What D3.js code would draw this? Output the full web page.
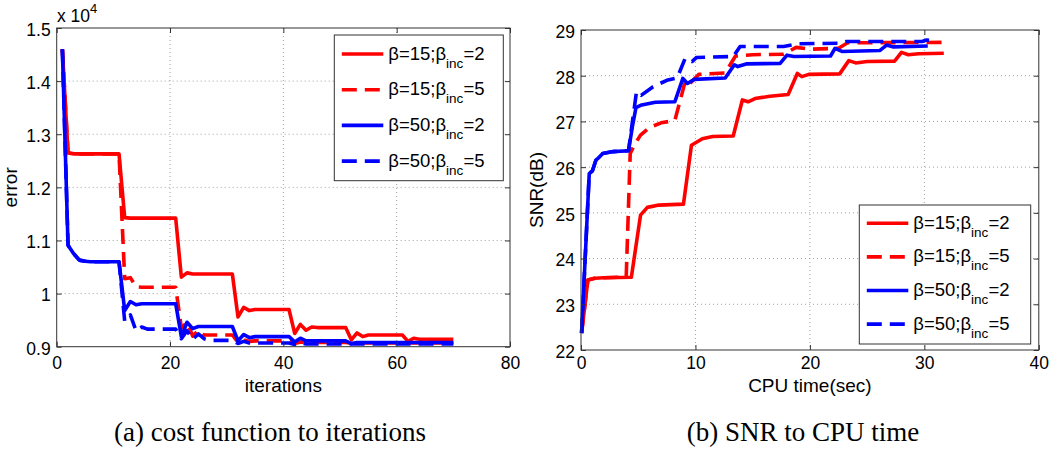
<!DOCTYPE html>
<html><head><meta charset="utf-8">
<script src="https://cdn.jsdelivr.net/npm/d3@7"></script>
<style>
body{margin:0;background:#fff}
svg{display:block}
text{font-family:"Liberation Sans",Arial,Helvetica,sans-serif;fill:#000}
text.cap{font-family:"Liberation Serif","Times New Roman",serif}
</style>
</head><body>
<svg id="c" width="1050" height="460"></svg>
<script>
// ---------- DATA ----------
// (a) cost function (x 10^4) vs iterations 1..70
const iterations = d3.range(1, 71);
const errR2 = [1.460,1.265,1.263,1.263,1.263,1.263,1.263,1.263,1.263,1.263,1.263,
  1.143,1.142,1.142,1.142,1.142,1.142,1.142,1.142,1.142,1.142,
  1.031,1.039,1.037,1.037,1.037,1.037,1.037,1.037,1.037,1.037,
  0.956,0.974,0.968,0.970,0.970,0.970,0.970,0.970,0.970,0.970,
  0.925,0.942,0.931,0.937,0.936,0.936,0.936,0.936,0.936,0.936,
  0.913,0.926,0.919,0.922,0.922,0.922,0.922,0.922,0.922,0.922,
  0.910,0.916,0.914,0.914,0.914,0.914,0.914,0.914,0.914];
const errR5 = [1.460,1.265,1.263,1.263,1.263,1.263,1.263,1.263,1.263,1.263,1.263,
  1.028,1.030,1.013,1.012,1.012,1.012,1.012,1.012,1.012,1.012,
  0.935,0.946,0.920,0.931,0.922,0.922,0.922,0.922,0.922,0.922,
  0.908,0.913,0.910,0.911,0.911,0.911,0.911,0.911,0.911,0.911,
  0.906,0.909,0.908,0.908,0.908,0.908,0.908,0.908,0.908,0.908,
  0.907,0.907,0.907,0.907,0.907,0.907,0.907,0.907,0.907,0.907,
  0.907,0.907,0.907,0.907,0.907,0.907,0.907,0.907,0.907];
const errB2 = [1.460,1.091,1.075,1.063,1.061,1.060,1.060,1.060,1.060,1.060,1.060,
  0.968,0.985,0.979,0.981,0.981,0.981,0.981,0.981,0.981,0.981,
  0.919,0.946,0.934,0.938,0.938,0.938,0.938,0.938,0.938,0.938,
  0.911,0.923,0.917,0.919,0.919,0.919,0.919,0.919,0.919,0.919,
  0.909,0.916,0.911,0.911,0.911,0.911,0.911,0.911,0.911,0.911,
  0.906,0.908,0.908,0.908,0.908,0.908,0.908,0.908,0.908,0.908,
  0.908,0.908,0.908,0.908,0.908,0.908,0.908,0.908,0.908];
const errB5 = [1.460,1.091,1.075,1.063,1.061,1.060,1.060,1.060,1.060,1.060,1.060,
  0.948,0.960,0.930,0.937,0.933,0.933,0.933,0.933,0.933,0.933,
  0.915,0.930,0.914,0.924,0.915,0.912,0.912,0.912,0.912,0.912,
  0.906,0.910,0.907,0.907,0.907,0.907,0.907,0.907,0.907,0.907,
  0.904,0.907,0.905,0.905,0.905,0.905,0.905,0.905,0.905,0.905,
  0.905,0.905,0.905,0.905,0.905,0.905,0.905,0.905,0.905,0.905,
  0.905,0.905,0.905,0.905,0.905,0.905,0.905,0.905,0.905];

// (b) SNR (dB) vs CPU time (sec)
const cpuR2 = [0.05,0.6,1.2,2.0,4.4,5.2,5.8,6.8,8.95,9.65,10.6,11.5,13.3,14.1,14.6,15.2,16.5,18.1,18.9,19.3,19.9,22.6,23.4,24.0,25.0,27.4,28.0,28.6,29.5,31.7];
const snrR2 = [22.37,23.53,23.57,23.58,23.59,24.95,25.12,25.17,25.19,26.48,26.62,26.67,26.68,27.47,27.43,27.5,27.55,27.59,28.05,27.98,28.03,28.04,28.33,28.28,28.31,28.32,28.51,28.46,28.48,28.49];
const cpuR5 = [0.05,0.6,1.2,2.0,3.95,4.3,4.7,5.2,6.0,7.0,8.2,9.1,9.4,10.3,12.6,13.5,15.0,17.7,18.8,20.0,22.5,23.3,31.9];
const snrR5 = [22.37,23.53,23.57,23.58,23.6,26.3,26.5,26.7,26.87,26.97,27.02,27.87,27.8,28.03,28.06,28.43,28.46,28.47,28.62,28.58,28.6,28.72,28.73];
const cpuB2 = [0.05,0.72,1.0,1.3,1.6,1.9,2.8,4.15,4.5,4.8,5.3,6.5,8.2,8.9,9.3,9.9,12.6,13.4,13.7,14.5,17.4,18.0,18.6,21.8,22.2,22.8,26.1,26.7,27.3,30.3];
const snrB2 = [22.37,25.86,25.92,26.15,26.22,26.3,26.34,26.36,26.9,27.3,27.36,27.42,27.43,27.94,27.83,27.92,27.95,28.24,28.2,28.26,28.27,28.45,28.42,28.43,28.6,28.53,28.55,28.67,28.63,28.65];
const cpuB5 = [0.05,0.72,1.0,1.3,1.6,1.9,2.8,4.15,4.55,4.85,5.25,6.3,7.5,8.4,9.1,9.7,10.1,13.3,13.9,17.7,19.0,22.6,23.2,29.8,30.2,30.5];
const snrB5 = [22.37,25.86,25.92,26.15,26.22,26.3,26.34,26.36,27.1,27.65,27.57,27.76,27.9,27.95,28.38,28.31,28.4,28.42,28.64,28.64,28.7,28.71,28.75,28.75,28.78,28.77];

// ticks & labels
const xTicksA = [0,20,40,60,80];
const yTicksA = [0.9,1.0,1.1,1.2,1.3,1.4,1.5];
const yTickLabelsA = ["0.9","1","1.1","1.2","1.3","1.4","1.5"];
const xTicksB = [0,10,20,30,40];
const yTicksB = [22,23,24,25,26,27,28,29];
const legendMain = ["β=15;β","β=15;β","β=50;β","β=50;β"];
const legendSub = ["inc","inc","inc","inc"];
const legendTail = ["=2","=5","=2","=5"];
const captions = ["(a) cost function to iterations","(b) SNR to CPU time"];

// ---------- STYLE ----------
const seriesColor = ["#ff0000","#ff0000","#0000ff","#0000ff"];
const seriesDash = [null,"15,8",null,"15,8"];
const LW = 3.6;
const TICKFS = 17.5, LABFS = 19, LEGFS = 18.5, SUBFS = 13.5;

const svg = d3.select("#c");
svg.append("rect").attr("width",1050).attr("height",460).attr("fill","#fff");

function panel(o){
  const g = svg.append("g");
  const x = d3.scaleLinear().domain(o.xd).range([o.l,o.r]);
  const y = d3.scaleLinear().domain(o.yd).range([o.b,o.t]);
  // grid
  const gg = g.append("g").attr("stroke","#a0a0a0").attr("stroke-width",1).attr("stroke-dasharray","1,3");
  o.xt.slice(1,-1).forEach(v=>gg.append("line").attr("x1",x(v)).attr("x2",x(v)).attr("y1",o.t).attr("y2",o.b));
  o.yt.slice(1,-1).forEach(v=>gg.append("line").attr("y1",y(v)).attr("y2",y(v)).attr("x1",o.l).attr("x2",o.r));
  // series
  o.series.forEach((s,i)=>{
    const line = d3.line().x(d=>x(d[0])).y(d=>y(d[1]));
    g.append("path").datum(d3.zip(s.x,s.y)).attr("d",line)
      .attr("fill","none").attr("stroke",seriesColor[i]).attr("stroke-width",LW)
      .attr("stroke-linejoin","round").attr("stroke-linecap","butt")
      .attr("stroke-dasharray",seriesDash[i]);
  });
  // axes
  const ax = (gen, tr, vals, fmt, pad, withText)=>{
    const a = g.append("g").attr("transform",tr)
      .call(gen.tickValues(vals).tickSizeInner(-5).tickSizeOuter(0).tickPadding(pad)
        .tickFormat(withText? fmt : ()=>""));
    a.select(".domain").remove();
    a.selectAll(".tick line").attr("stroke","#333");
    a.selectAll("text").attr("font-size",TICKFS).attr("fill","#000");
    return a;
  };
  ax(d3.axisBottom(x), `translate(0,${o.b})`, o.xt, d=>String(d), o.padB, true);
  ax(d3.axisTop(x), `translate(0,${o.t})`, o.xt, null, 0, false);
  const la = ax(d3.axisLeft(y), `translate(${o.l},0)`, o.yt, (d,i)=>o.ytl[i], 6, true);
  la.selectAll("text").attr("dy","0.42em");
  ax(d3.axisRight(y), `translate(${o.r},0)`, o.yt, null, 0, false);
  g.append("rect").attr("x",o.l).attr("y",o.t).attr("width",o.r-o.l).attr("height",o.b-o.t)
    .attr("fill","none").attr("stroke","#333").attr("stroke-width",1);
  // labels
  g.append("text").attr("x",(o.l+o.r)/2).attr("y",o.xlabY).attr("text-anchor","middle")
    .attr("font-size",LABFS).text(o.xlab);
  g.append("text").attr("transform",`translate(${o.ylabX},${(o.t+o.b)/2}) rotate(-90)`)
    .attr("text-anchor","middle").attr("font-size",LABFS).text(o.ylab);
  // legend
  const L = o.leg;
  g.append("rect").attr("x",L.x).attr("y",L.y).attr("width",L.w).attr("height",L.h)
    .attr("fill","#fff").attr("stroke","#333").attr("stroke-width",1);
  legendMain.forEach((m,i)=>{
    const ry = L.y + L.first + i*L.step;
    g.append("line").attr("x1",L.x+7.5).attr("x2",L.x+49).attr("y1",ry).attr("y2",ry)
      .attr("stroke",seriesColor[i]).attr("stroke-width",LW).attr("stroke-dasharray",seriesDash[i]);
    const t = g.append("text").attr("x",L.x+54).attr("y",ry+5.5).attr("font-size",LEGFS);
    t.append("tspan").text(m);
    t.append("tspan").attr("dy",8).attr("font-size",SUBFS).text(legendSub[i]);
    t.append("tspan").attr("dy",-8).text(legendTail[i]);
  });
  return {x,y,g};
}

const A = panel({
  l:56.7, r:510, t:28, b:346.7, xd:[0,80], yd:[0.9,1.5],
  xt:xTicksA, yt:yTicksA, ytl:yTickLabelsA, padB:10,
  xlab:"iterations", xlabY:392, ylab:"error", ylabX:17,
  series:[{x:iterations,y:errR2},{x:iterations,y:errR5},{x:iterations,y:errB2},{x:iterations,y:errB5}],
  leg:{x:334.3,y:35,w:169,h:145.7,first:19,step:35.7}
});
// exponent label
const ex = svg.append("text").attr("x",57).attr("y",22).attr("font-size",TICKFS);
ex.append("tspan").text("x 10");
ex.append("tspan").attr("dy",-9).attr("font-size",13).text("4");

const B = panel({
  l:581, r:1038.8, t:30, b:350, xd:[0,40], yd:[22,29],
  xt:xTicksB, yt:yTicksB, ytl:yTicksB.map(String), padB:7,
  xlab:"CPU time(sec)", xlabY:392, ylab:"SNR(dB)", ylabX:543,
  series:[{x:cpuR2,y:snrR2},{x:cpuR5,y:snrR5},{x:cpuB2,y:snrB2},{x:cpuB5,y:snrB5}],
  leg:{x:859.3,y:205,w:171.4,h:139,first:18.3,step:33.6}
});

// captions
[[270,captions[0]],[803,captions[1]]].forEach(([cx,t])=>{
  svg.append("text").attr("class","cap").attr("x",cx).attr("y",441).attr("text-anchor","middle")
    .attr("font-size",27).text(t);
});
</script>
</body></html>
